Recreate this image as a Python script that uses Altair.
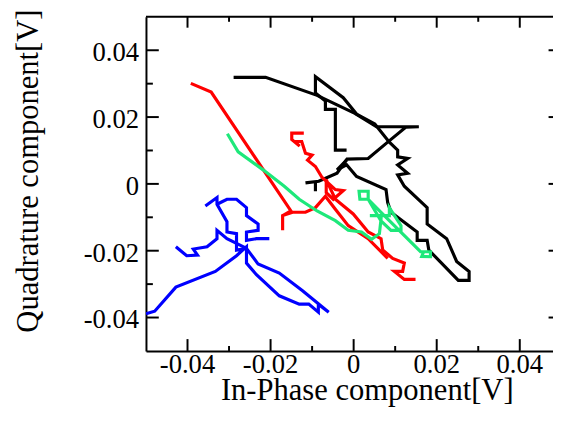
import altair as alt
import pandas as pd

# ---------------- data ----------------
# black trace
black_a_x = [-0.0289, -0.0212, -0.0088, 0.0003, 0.0055, 0.0157, 0.0126, 0.0082, 0.0035, -0.0016, -0.0040, -0.0084, -0.0116]
black_a_y = [0.0319, 0.0319, 0.0265, 0.0211, 0.0171, 0.0171, 0.0170, 0.0125, 0.0076, 0.0074, 0.0032, 0.0008, 0.0003]
black_b_x = [-0.0017, -0.0044, -0.0044, -0.0068, -0.0068, -0.0092, -0.0092, -0.0025, 0.0007, 0.0051, 0.0086, 0.0106,
             0.0106, 0.0130, 0.0106, 0.0130, 0.0106, 0.0122, 0.0177, 0.0177, 0.0224, 0.0248, 0.0278, 0.0278, 0.0252,
             0.0181, 0.0177, 0.0153, 0.0153, 0.0090, 0.0082, 0.0078, 0.0007, -0.0017, -0.0040, -0.0017]
black_b_y = [0.0101, 0.0101, 0.0223, 0.0223, 0.0248, 0.0272, 0.0321, 0.0258, 0.0209, 0.0179, 0.0125, 0.0101,
             0.0081, 0.0076, 0.0057, 0.0032, 0.0027, -0.0007, -0.0071, -0.0120, -0.0164, -0.0232, -0.0262, -0.0289, -0.0289,
             -0.0198, -0.0169, -0.0169, -0.0144, -0.0085, -0.0056, -0.0017, 0.0022, 0.0057, 0.0042, 0.0071]
black_c_x = [-0.0092, -0.0092]
black_c_y = [0.0008, -0.0022]

# red trace
red_a_x = [-0.0392, -0.0343, -0.0151, -0.0171, -0.0171, -0.0171, -0.0147, -0.0116, -0.0092, -0.0068, -0.0044, -0.0013, 0.0035, 0.0082]
red_a_y = [0.0301, 0.0275, -0.0081, -0.0095, -0.0139, -0.0095, -0.0085, -0.0085, -0.0071, -0.0037, -0.0076, -0.0125, -0.0164, -0.0223]
red_b_x = [-0.0120, -0.0149, -0.0149, -0.0130, -0.0142, -0.0125, -0.0116, -0.0100, -0.0111, -0.0092, -0.0076, -0.0044,
           -0.0025, -0.0049, -0.0066, -0.0066, -0.0044, -0.0001, 0.0035, 0.0066, 0.0070, 0.0094, 0.0122, 0.0118, 0.0098, 0.0122, 0.0149]
red_b_y = [0.0152, 0.0152, 0.0133, 0.0113, 0.0127, 0.0127, 0.0092, 0.0086, 0.0071, 0.0052, 0.0019, -0.0017,
           -0.0020, -0.0046, -0.0026, 0.0013, -0.0046, -0.0090, -0.0144, -0.0164, -0.0198, -0.0223, -0.0237, -0.0262, -0.0262, -0.0286, -0.0286]

# green trace
green_x = [-0.0304, -0.0278, -0.0218, -0.0167, -0.0131, -0.0088, -0.0044, -0.0013, 0.0019, 0.0043, 0.0062, 0.0066,
           0.0066, 0.0039, 0.0086, 0.0086, 0.0114, 0.0114, 0.0090, 0.0066, 0.0035, 0.0015, 0.0013, 0.0035, 0.0035,
           0.0066, 0.0161, 0.0185, 0.0185, 0.0164, 0.0169]
green_y = [0.0150, 0.0096, 0.0042, -0.0007, -0.0046, -0.0081, -0.0110, -0.0139, -0.0144, -0.0166, -0.0149, -0.0105,
           -0.0095, -0.0095, -0.0095, -0.0071, -0.0125, -0.0139, -0.0139, -0.0111, -0.0046, -0.0046, -0.0022, -0.0022, -0.0046,
           -0.0085, -0.0203, -0.0203, -0.0218, -0.0217, -0.0202]

# blue trace
blue_a_x = [-0.0500, -0.0479, -0.0428, -0.0333, -0.0282, -0.0258, -0.0258, -0.0234, -0.0179, -0.0131, -0.0108, -0.0085,
            -0.0085, -0.0060, -0.0123, -0.0179, -0.0230, -0.0258, -0.0282, -0.0282, -0.0305, -0.0305, -0.0329, -0.0329, -0.0357]
blue_a_y = [-0.0389, -0.0381, -0.0309, -0.0262, -0.0215, -0.0188, -0.0237, -0.0272, -0.0335, -0.0360, -0.0360, -0.0384,
            -0.0360, -0.0384, -0.0320, -0.0267, -0.0240, -0.0193, -0.0198, -0.0149, -0.0144, -0.0113, -0.0061, -0.0041, -0.0066]
blue_b_x = [-0.0329, -0.0305, -0.0282, -0.0258, -0.0258, -0.0230, -0.0230, -0.0258, -0.0258, -0.0234, -0.0203]
blue_b_y = [-0.0061, -0.0046, -0.0046, -0.0071, -0.0095, -0.0120, -0.0139, -0.0144, -0.0169, -0.0164, -0.0164]
blue_c_x = [-0.0428, -0.0402, -0.0376, -0.0386, -0.0353, -0.0329, -0.0329, -0.0305, -0.0282, -0.0258]
blue_c_y = [-0.0188, -0.0215, -0.0213, -0.0195, -0.0188, -0.0164, -0.0139, -0.0164, -0.0178, -0.0193]

series_names = ["black", "red", "green", "blue"]
series_colors = ["#000000", "#ff0000", "#1ee87a", "#0000ff"]

x_major = [-0.04, -0.02, 0.0, 0.02, 0.04]
x_minor = [-0.03, -0.01, 0.01, 0.03]
x_labels = ["-0.04", "-0.02", "0", "0.02", "0.04"]
y_major = [-0.04, -0.02, 0.0, 0.02, 0.04]
y_minor = [-0.03, -0.01, 0.01, 0.03]
y_labels = ["-0.04", "-0.02", "0", "0.02", "0.04"]

# ---------------- build ----------------
paths = [
    ("black", "k_a", black_a_x, black_a_y),
    ("black", "k_b", black_b_x, black_b_y),
    ("black", "k_c", black_c_x, black_c_y),
    ("red", "r_a", red_a_x, red_a_y),
    ("red", "r_b", red_b_x, red_b_y),
    ("green", "g_a", green_x, green_y),
    ("blue", "b_a", blue_a_x, blue_a_y),
    ("blue", "b_b", blue_b_x, blue_b_y),
    ("blue", "b_c", blue_c_x, blue_c_y),
]
rows = []
for s, pid, xs, ys in paths:
    for i, (a, b) in enumerate(zip(xs, ys)):
        rows.append({"x": a, "y": b, "series": s, "part": pid, "i": i})
df = pd.DataFrame(rows)

W, H = 413, 339
FONT = "Liberation Serif"
LSIZE = 27
xscale = alt.Scale(domain=[-0.05, 0.048], nice=False, zero=False)
yscale = alt.Scale(domain=[-0.05, 0.05], nice=False, zero=False)

common = dict(ticks=False, grid=False, domain=True, domainColor="black", domainWidth=2, labels=False,
              titleFont=FONT, titleFontSize=31, titleFontWeight="normal", titleColor="black")
xaxis = alt.Axis(values=x_major, title="In-Phase component[V]",
                 titleX=224, titleY=49, titleBaseline="alphabetic", titleAlign="center", **common)
yaxis = alt.Axis(values=y_major, title="Quadrature component[V]",
                 titleAngle=270, titleX=-110, titleY=156, titleBaseline="alphabetic",
                 titleAlign="center", **common)

X = alt.X("x:Q", scale=xscale, axis=xaxis)
Y = alt.Y("y:Q", scale=yscale, axis=yaxis)

lines = alt.Chart(df).mark_line(strokeWidth=3.2, clip=True).encode(
    x=X, y=Y,
    color=alt.Color("series:N", scale=alt.Scale(domain=series_names, range=series_colors), legend=None),
    detail="part:N",
    order="i:Q",
)

def xticks(vals, y0, y1):
    return alt.Chart(pd.DataFrame({"x": vals})).mark_rule(color="black", strokeWidth=2).encode(
        x=X, y=alt.value(y0), y2=alt.value(y1))

def yticks(vals, x0, x1):
    return alt.Chart(pd.DataFrame({"y": vals})).mark_rule(color="black", strokeWidth=2).encode(
        y=Y, x=alt.value(x0), x2=alt.value(x1))

top_border = alt.Chart(pd.DataFrame({"a": [0]})).mark_rule(color="black", strokeWidth=2).encode(
    x=alt.value(0), x2=alt.value(W), y=alt.value(0))

xlab = alt.Chart(pd.DataFrame({"x": x_major, "t": x_labels})).mark_text(
    font=FONT, fontSize=LSIZE, color="black", align="center", baseline="alphabetic").encode(
    x=X, y=alt.value(H + 22), text="t:N")
ylab = alt.Chart(pd.DataFrame({"y": y_major, "t": y_labels})).mark_text(
    font=FONT, fontSize=LSIZE, color="black", align="right", baseline="alphabetic", dy=11).encode(
    y=Y, x=alt.value(-7), text="t:N")

chart = alt.layer(
    lines,
    xticks(x_major, H, H - 12), xticks(x_minor, H, H - 5),
    xticks(x_major, 0, 11), xticks(x_minor, 0, 5),
    yticks(y_major, 0, 13), yticks(y_minor, 0, 7),
    yticks(y_major, W - 4.5, W),
    top_border, xlab, ylab,
).properties(
    width=W, height=H,
    autosize=alt.AutoSizeParams(type="none"),
    padding={"left": 140, "top": 6, "right": 0, "bottom": 60},
).configure_view(stroke=None)

chart.save("out.html", embed_options={"renderer": "svg", "actions": False})
